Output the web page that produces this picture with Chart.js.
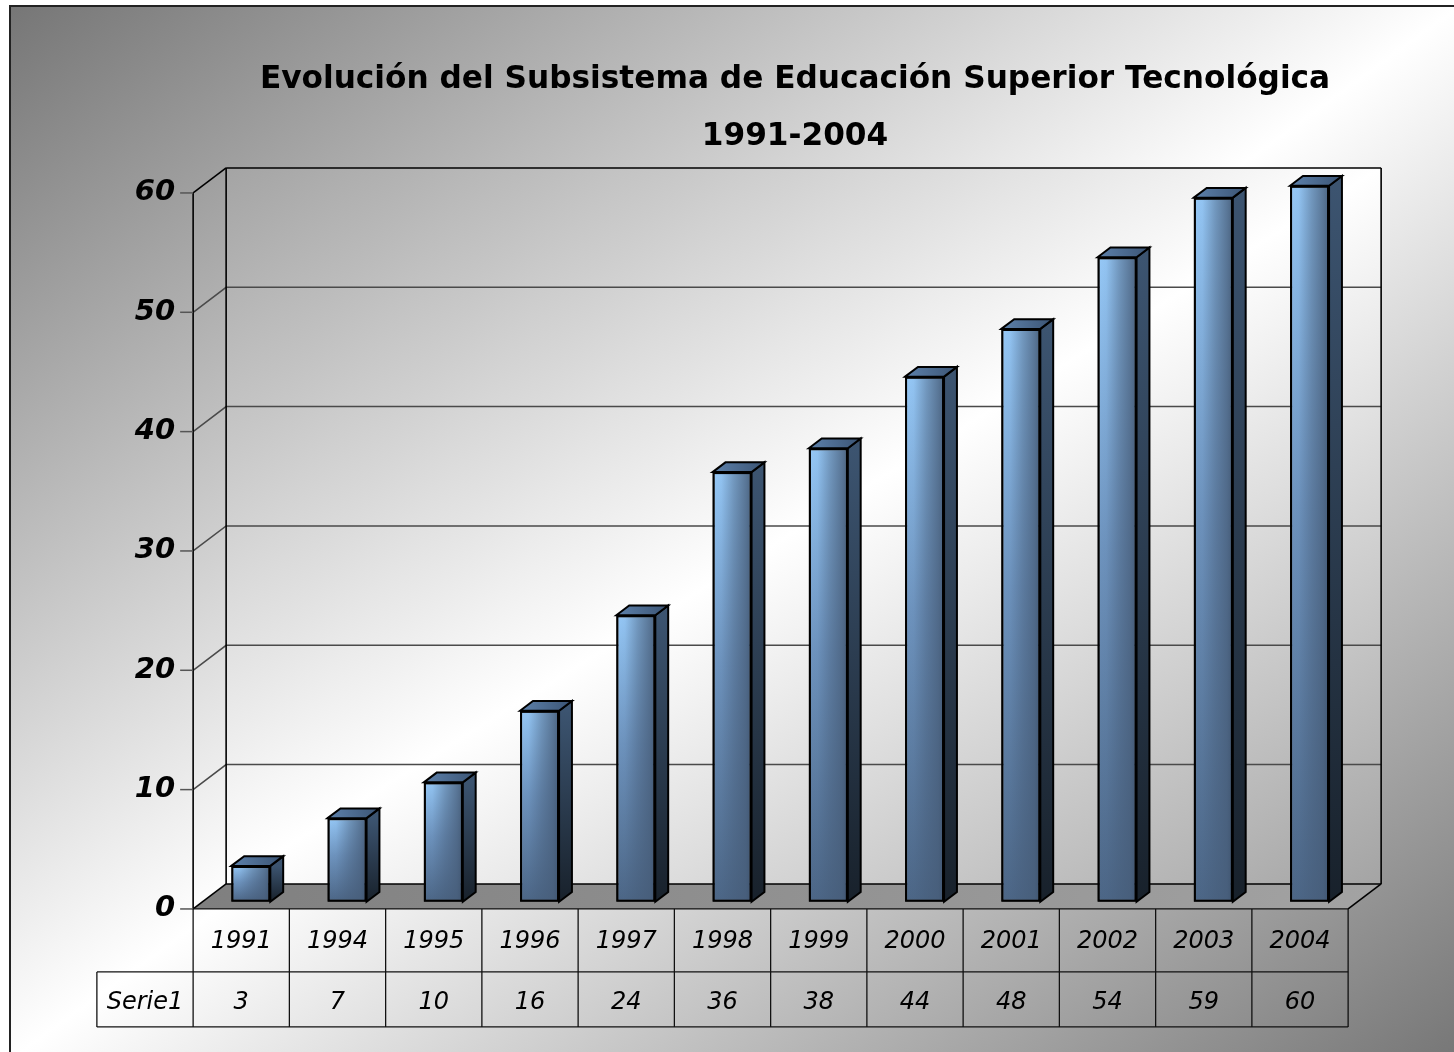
<!DOCTYPE html>
<html>
<head>
<meta charset="utf-8">
<script src="https://cdn.jsdelivr.net/npm/chart.js@4.4.1/dist/chart.umd.min.js"></script>
<style>
html,body{margin:0;padding:0;background:#fff;}
canvas{display:block;}
</style>
</head>
<body>
<canvas id="c" width="1454" height="1052"></canvas>
<script>
// ---- data ----
const titleLines = ['Evolución del Subsistema de Educación Superior Tecnológica', '1991-2004'];
const categories = ['1991','1994','1995','1996','1997','1998','1999','2000','2001','2002','2003','2004'];
const serie1 = [3, 7, 10, 16, 24, 36, 38, 44, 48, 54, 59, 60];
const seriesName = 'Serie1';
const yTicks = [0, 10, 20, 30, 40, 50, 60];

// ---- style ----
const FONT = '"Comic Sans MS", "DejaVu Sans", sans-serif';
const DEPTH = { dx: 33, dy: -25 };
const BAR_Z0 = 0.29, BAR_Z1 = 0.68;

function P(x, y, z) { return [x + (z - BAR_Z0) * DEPTH.dx, y + (z - BAR_Z0) * DEPTH.dy]; }

function fillDiag(ctx, x, y, w, h, dark, light) {
  const cx = x + w / 2, cy = y + h / 2, k = w * h / (w * w + h * h);
  const g = ctx.createLinearGradient(cx - k * h, cy - k * w, cx + k * h, cy + k * w);
  g.addColorStop(0, dark); g.addColorStop(0.5, light); g.addColorStop(1, dark);
  ctx.fillStyle = g;
  ctx.fillRect(x, y, w, h);
}
function poly(ctx, pts) {
  ctx.beginPath();
  ctx.moveTo(pts[0][0], pts[0][1]);
  for (let i = 1; i < pts.length; i++) ctx.lineTo(pts[i][0], pts[i][1]);
  ctx.closePath();
}
function line(ctx, a, b) { ctx.beginPath(); ctx.moveTo(a[0], a[1]); ctx.lineTo(b[0], b[1]); ctx.stroke(); }

function frontFill(c) {
  const chart = c.chart, ys = chart.scales && chart.scales.y;
  if (!ys || c.raw === undefined) return '#6a8cb5';
  const top = ys.getPixelForValue(c.raw), bot = ys.getPixelForValue(0);
  if (!isFinite(top) || !isFinite(bot) || Math.abs(bot - top) < 1) return '#6a8cb5';
  const g = chart.ctx.createLinearGradient(0, top, 0, bot);
  g.addColorStop(0, '#96c9f8');
  g.addColorStop(0.45, '#6e94bf');
  g.addColorStop(1, '#4c6686');
  return g;
}

const plot3d = {
  id: 'plot3d',
  beforeDraw(chart) {
    const ctx = chart.ctx;
    ctx.save();
    ctx.fillStyle = '#ffffff';
    ctx.fillRect(0, 0, chart.width, chart.height);
    fillDiag(ctx, 10, 6, 1450, 1054, '#767676', '#ffffff');
    ctx.strokeStyle = '#222'; ctx.lineWidth = 2;
    ctx.strokeRect(10, 6, 1450, 1054);
    ctx.restore();
  },
  beforeDatasetsDraw(chart) {
    const ctx = chart.ctx, xs = chart.scales.x, ys = chart.scales.y;
    const L = xs.left, R = xs.right, n = categories.length, catW = (R - L) / n;
    const yTop = ys.getPixelForValue(ys.max), yZero = ys.getPixelForValue(0);
    ctx.save();
    // back wall
    const bTL = P(L, yTop, 1), bBR = P(R, yZero, 1);
    fillDiag(ctx, bTL[0], bTL[1], bBR[0] - bTL[0], bBR[1] - bTL[1], '#a4a4a4', '#ffffff');
    // floor
    const f1 = P(L, yZero, 0), f2 = P(R, yZero, 0), f3 = P(R, yZero, 1), f4 = P(L, yZero, 1);
    const fg = ctx.createLinearGradient(f1[0], 0, f3[0], 0);
    fg.addColorStop(0, '#7f7f7f'); fg.addColorStop(1, '#a3a3a3');
    ctx.fillStyle = fg; poly(ctx, [f1, f2, f3, f4]); ctx.fill();
    // gridlines
    ctx.strokeStyle = '#4a4a4a'; ctx.lineWidth = 1.5;
    yTicks.forEach(v => {
      if (v <= ys.min || v >= ys.max) return;
      const yb = ys.getPixelForValue(v);
      const a = P(L, yb, 0), b = P(L, yb, 1), c = P(R, yb, 1);
      ctx.beginPath(); ctx.moveTo(a[0], a[1]); ctx.lineTo(b[0], b[1]); ctx.lineTo(c[0], c[1]); ctx.stroke();
    });
    // frame lines
    ctx.strokeStyle = '#000'; ctx.lineWidth = 1.6;
    const aTop = P(L, yTop, 0), aBot = P(L, yZero, 0);
    line(ctx, aTop, aBot);
    line(ctx, aTop, bTL);
    line(ctx, bTL, P(L, yZero, 1));
    line(ctx, bTL, P(R, yTop, 1));
    line(ctx, P(R, yTop, 1), bBR);
    line(ctx, f1, f4);
    line(ctx, f4, f3);
    line(ctx, f2, f3);
    // tick marks + labels
    ctx.strokeStyle = '#555'; ctx.lineWidth = 1.5;
    ctx.fillStyle = '#000';
    ctx.font = 'italic bold 29px ' + FONT;
    ctx.textAlign = 'right'; ctx.textBaseline = 'middle';
    yTicks.forEach(v => {
      const p = P(L, ys.getPixelForValue(v), 0);
      line(ctx, [p[0] - 13, p[1]], p);
      ctx.fillText(String(v), p[0] - 18, p[1]);
    });
    // data table
    const tTop = f1[1], r1 = tTop + 63, r2 = r1 + 55;
    const x0 = f1[0], xEnd = f2[0], xLab = x0 - catW;
    ctx.strokeStyle = '#111'; ctx.lineWidth = 1.3;
    line(ctx, [x0, tTop], [xEnd, tTop]);
    line(ctx, [xLab, r1], [xEnd, r1]);
    line(ctx, [xLab, r2], [xEnd, r2]);
    line(ctx, [xLab, r1], [xLab, r2]);
    for (let i = 0; i <= n; i++) {
      const xx = x0 + i * catW;
      line(ctx, [xx, tTop], [xx, r2]);
    }
    ctx.font = 'italic 24px ' + FONT;
    ctx.textAlign = 'center'; ctx.textBaseline = 'middle';
    categories.forEach((c, i) => {
      const cx = P(xs.getPixelForValue(i), yZero, 0)[0];
      ctx.fillText(c, cx, (tTop + r1) / 2 + 1);
      ctx.fillText(String(serie1[i]), cx, (r1 + r2) / 2 + 3);
    });
    ctx.fillText(seriesName, xLab + catW / 2, (r1 + r2) / 2 + 3);
    // title
    ctx.font = 'bold 30px ' + FONT;
    const w1 = ctx.measureText(titleLines[0]).width;
    const size = Math.max(20, Math.min(34, 30 * 1070 / w1));
    ctx.font = 'bold ' + size.toFixed(1) + 'px ' + FONT;
    ctx.fillText(titleLines[0], 795, 80);
    ctx.fillText(titleLines[1], 795, 137);
    ctx.restore();
  },
  afterDatasetsDraw(chart) {
    const ctx = chart.ctx, meta = chart.getDatasetMeta(0);
    const d = (BAR_Z1 - BAR_Z0) * DEPTH.dx, e = (BAR_Z1 - BAR_Z0) * DEPTH.dy;
    ctx.save();
    meta.data.forEach(el => {
      const { x, y, base, width } = el.getProps(['x', 'y', 'base', 'width'], true);
      const xl = x - width / 2, xr = x + width / 2;
      // horizontal shading on front face
      ctx.save();
      ctx.beginPath(); ctx.rect(xl + 2, y + 2, width - 4, base - y - 4); ctx.clip();
      const hg = ctx.createLinearGradient(xl, 0, xr, 0);
      hg.addColorStop(0, 'rgba(70,92,120,0)');
      hg.addColorStop(0.22, 'rgba(70,92,120,0.05)');
      hg.addColorStop(0.55, 'rgba(70,92,120,0.45)');
      hg.addColorStop(0.85, 'rgba(70,92,120,0.75)');
      hg.addColorStop(1, 'rgba(62,82,108,0.85)');
      ctx.fillStyle = hg; ctx.fillRect(xl, y, width, base - y);
      ctx.restore();
      ctx.lineWidth = 2; ctx.strokeStyle = '#000'; ctx.lineJoin = 'miter';
      // side face
      const sg = ctx.createLinearGradient(0, y, 0, base);
      sg.addColorStop(0, '#3c5470'); sg.addColorStop(1, '#18212b');
      ctx.fillStyle = sg;
      poly(ctx, [[xr, y], [xr + d, y + e], [xr + d, base + e], [xr, base]]);
      ctx.fill(); ctx.stroke();
      // top face
      const tg = ctx.createLinearGradient(xl, 0, xr + d, 0);
      tg.addColorStop(0, '#5d81ab'); tg.addColorStop(1, '#3b5474');
      ctx.fillStyle = tg;
      poly(ctx, [[xl, y], [xl + d, y + e], [xr + d, y + e], [xr, y]]);
      ctx.fill(); ctx.stroke();
      // front outline
      ctx.strokeRect(xl + 1, y + 1, width - 2, base - y - 2);
    });
    ctx.restore();
  }
};

new Chart(document.getElementById('c'), {
  type: 'bar',
  data: {
    labels: categories,
    datasets: [{
      label: seriesName,
      data: serie1,
      backgroundColor: frontFill,
      borderColor: '#000',
      borderWidth: 2,
      borderSkipped: false,
      barPercentage: 0.405,
      categoryPercentage: 1
    }]
  },
  options: {
    responsive: false,
    animation: false,
    devicePixelRatio: 1,
    events: [],
    layout: { padding: { left: 202.7, right: 96.3, top: 185.7, bottom: 150.3 } },
    plugins: { legend: { display: false }, tooltip: { enabled: false }, title: { display: false } },
    scales: {
      x: { display: false, offset: true },
      y: { display: false, min: 0, max: 60 }
    }
  },
  plugins: [plot3d]
});
</script>
</body>
</html>
